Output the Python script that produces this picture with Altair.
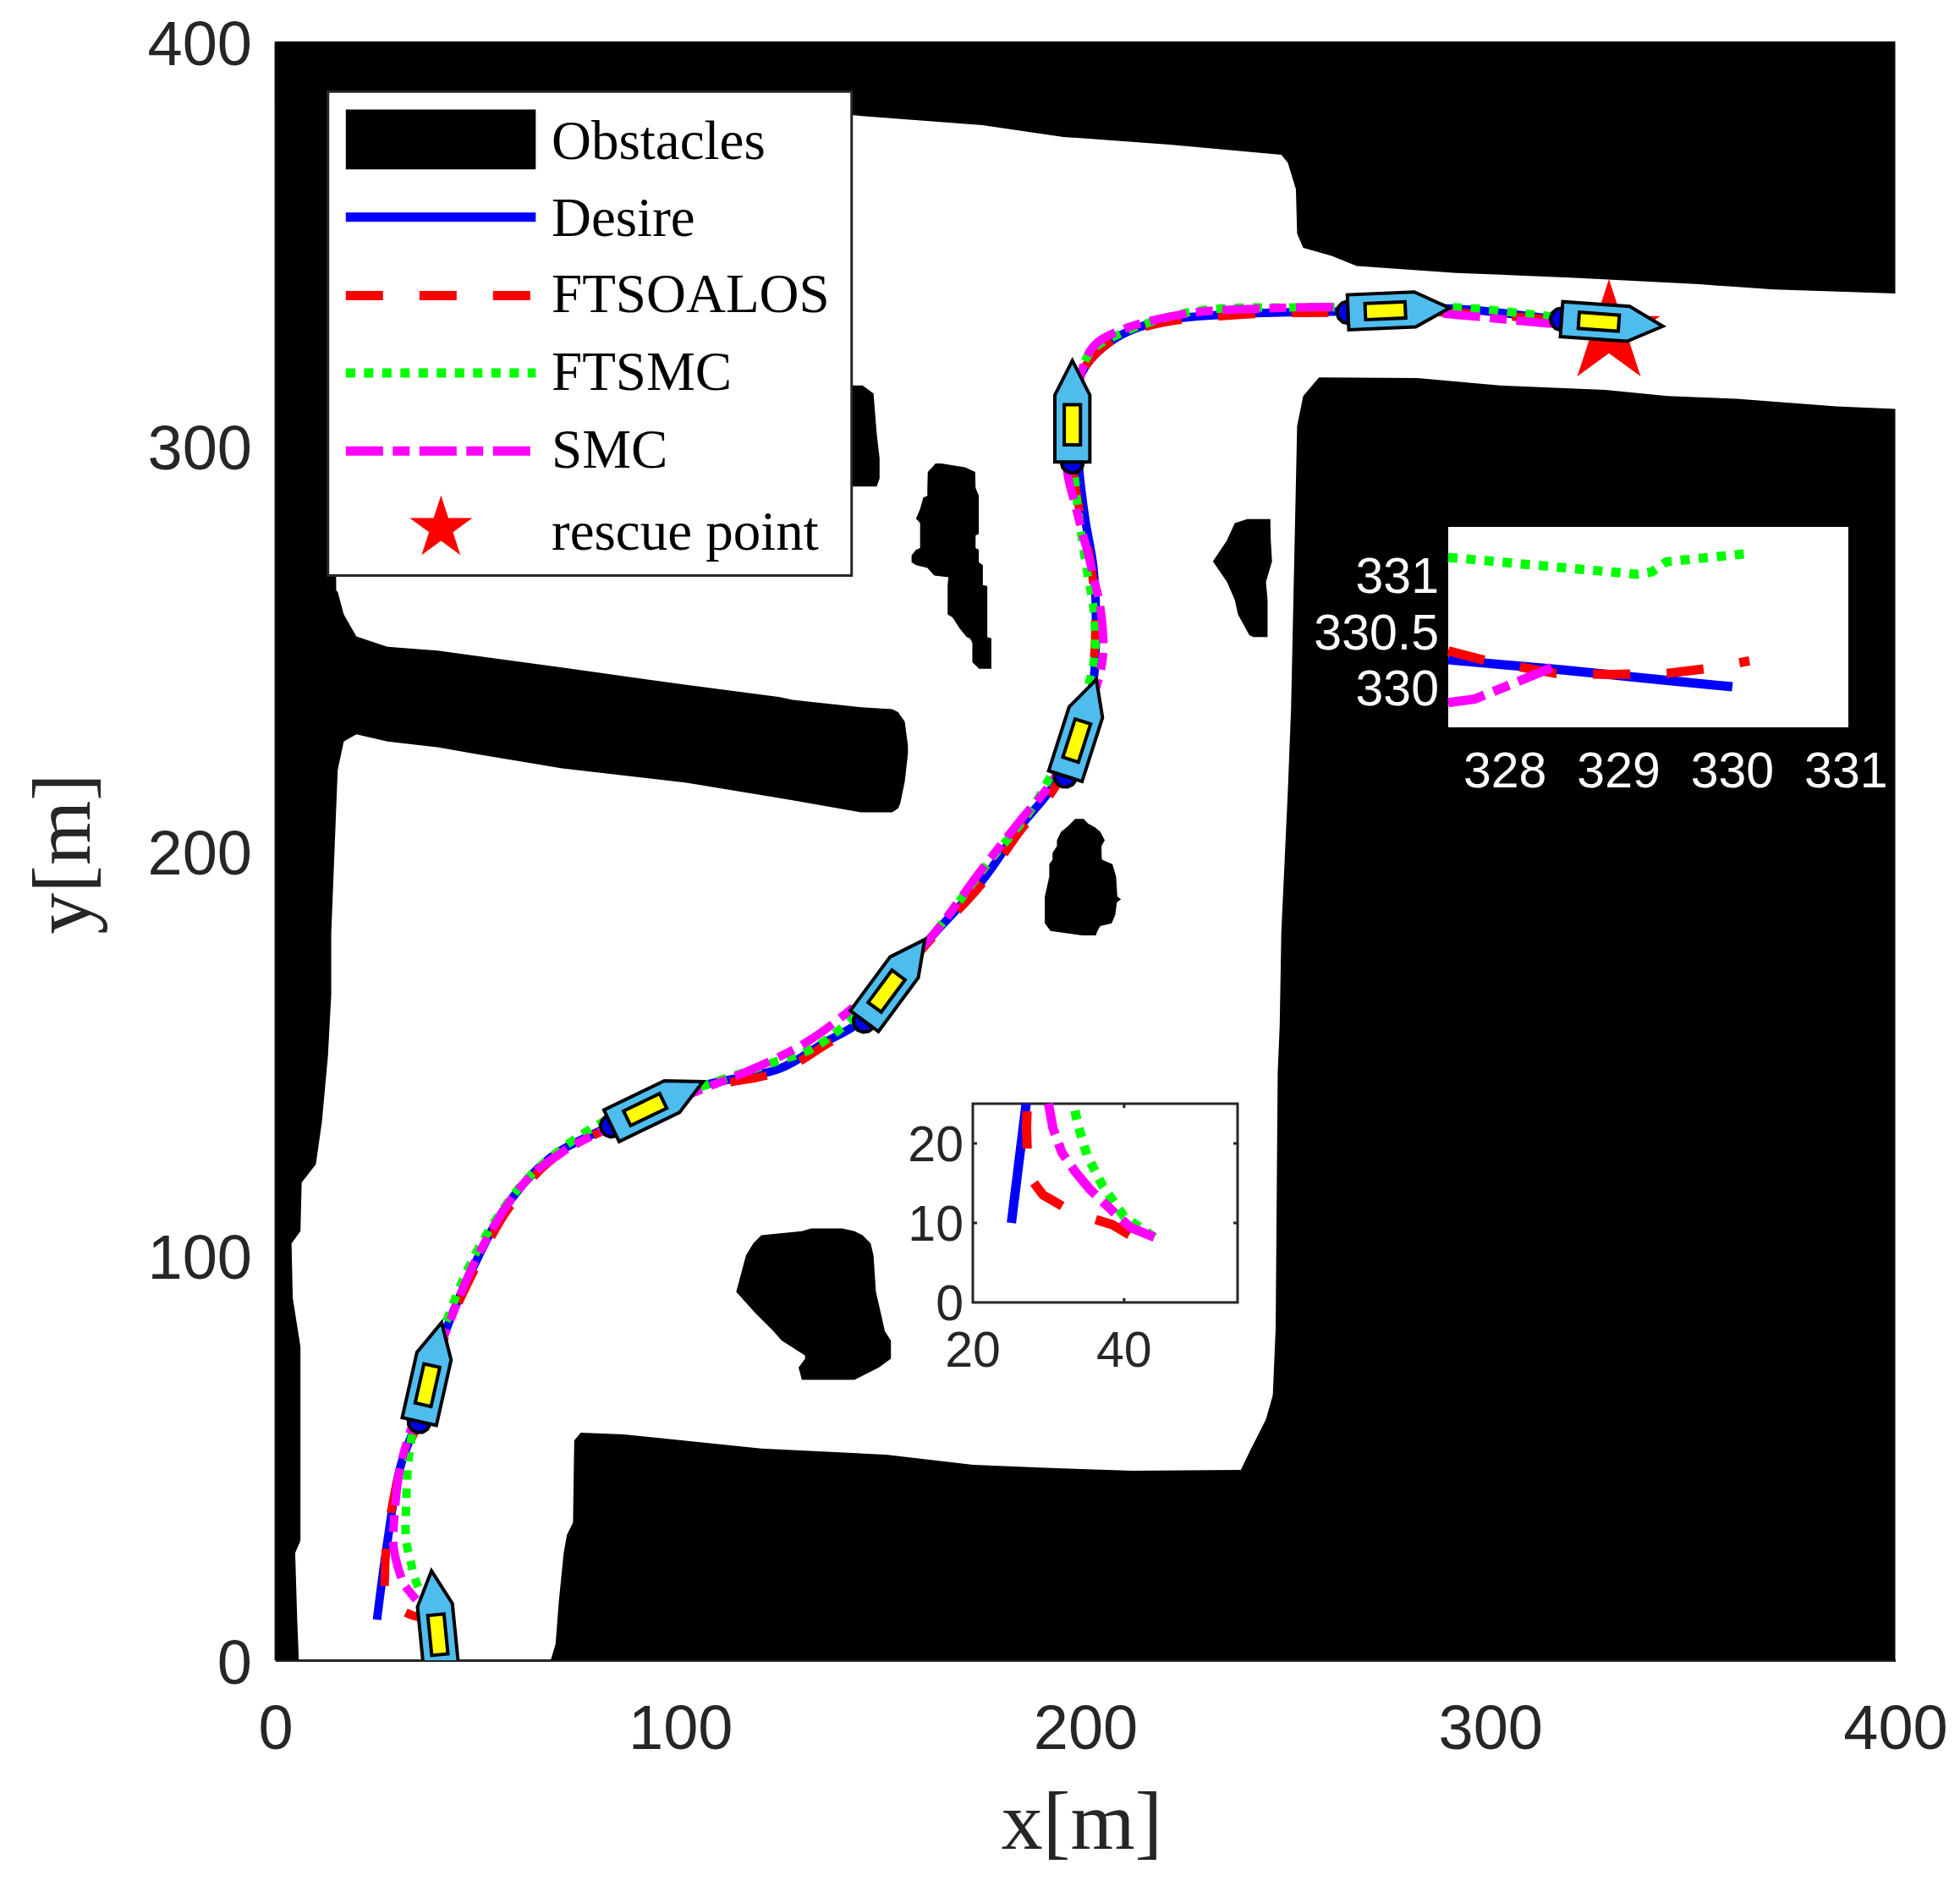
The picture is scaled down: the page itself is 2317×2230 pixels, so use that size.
import altair as alt
import pandas as pd

W, H = 1915, 1914
INK = "#262626"
SANS = "Liberation Sans"
SERIF = "Liberation Serif"

# ---------- obstacle outlines (map metres) ----------
top_x = [0, 142, 174.6, 194.6, 220.8, 248.4, 250, 252, 252.3, 253.8, 260.8, 267, 291.5, 320.8, 351.5, 370, 400]
top_y = [384, 381.8, 379.3, 376.4, 374.5, 372, 370, 363.5, 352.5, 349, 347, 344.5, 342.8, 341.6, 340, 338.7, 337.7]

block_x = [68, 69.2, 70, 71.2, 72, 73.5, 73.8, 75.4, 86, 120, 150.8, 172.3, 191.5, 211.5, 238.4, 240.8, 244.6, 246.3,
           247, 247.5, 248, 248.4, 250, 250.8, 252.3, 253.8, 257.7, 282, 302.3, 328.4, 343.8, 360.8, 385.4, 400]
block_y = [0, 4, 14.5, 26.5, 31, 34, 54.3, 56.2, 55.8, 52.3, 50.8, 48.3, 47.5, 46.8, 47, 52, 59.5, 65.5,
           82, 145, 157, 180, 214.6, 235, 305, 312.4, 317, 316.8, 315, 313.9, 312.4, 311.7, 309.8, 309.2]

bar_x = [10, 15.4, 16.9, 20, 27.7, 40, 49.2, 70.8, 101.5, 124.6, 127.7, 144.6, 152.3, 153.8, 154.3, 155.4, 156.2]
bar_low = [220, 220, 227, 228.8, 227, 225.6, 224, 220.4, 216.8, 213, 212.5, 209.5, 209.5, 210.5, 211.7, 217, 224]
bar_up = [268, 264, 258.4, 253, 250.4, 249.5, 248.2, 245.3, 241, 238, 237.3, 235.5, 235, 234.3, 233.5, 232, 226]

small_x = [140, 141.8, 145, 147.7, 148.5, 149.2]
small_low = [290, 290, 290, 290, 290, 292]
small_up = [315, 315, 315, 313, 303, 297]

wall_y = [0, 10, 26.5, 29.5, 77.5, 89.5, 103, 106, 118, 122.5, 133, 149.5, 164.5, 179.5, 220, 268, 400]
wall_x = [5.8, 5.4, 4.9, 6.2, 6.2, 4.3, 4, 6.2, 6.5, 10, 11.5, 13, 13.8, 13.8, 15.4, 15, 14]

tall_y = [295.7, 294.8, 293.6, 289.7, 287.7, 287.3, 284.5, 282.1, 281, 278.3, 277.9, 274.8, 274.4, 273, 271.3, 270.6,
          269.9, 268, 267.6, 265.7, 265.4, 258.4, 257.7, 254.9, 252.8, 252.5, 251.4, 246.6, 245]
tall_l = [163, 162.2, 161.1, 161, 161, 160, 159.2, 158.2, 159.2, 159.2, 159.2, 159.2, 158.2, 157.1, 157.1, 158.2,
          161, 162.7, 166.2, 166, 166, 166, 167.2, 169, 170.7, 171.5, 172.1, 172.1, 173.8]
tall_r = [164.4, 170.3, 172.8, 172.9, 173.7, 173.7, 173.7, 173.7, 173.7, 173.7, 172.9, 172.9, 173.7, 173.7, 173.7, 174.7,
          174.7, 174.7, 174.7, 174.7, 175.8, 175.8, 175.8, 175.8, 175.8, 176.8, 176.8, 176.8, 176.8]

mid_y = [207.9, 206.8, 205.8, 204.7, 202.6, 201.2, 199.5, 197.8, 196.7, 193.6, 188.7, 188, 187.3, 184.2, 182.1, 181.4, 180.2, 179.1]
mid_l = [197.5, 196.4, 195.4, 194, 193, 193, 191.9, 191.9, 191.1, 191.1, 190, 190, 190, 190, 190, 190.5, 191.4, 199.2]
mid_r = [199.6, 200.6, 202.4, 203.7, 204.8, 204, 204, 204.1, 206.7, 207.6, 207.9, 208.8, 207.8, 207.4, 206.5, 203.7, 203, 202.6]

rock_y = [106.7, 106, 105, 103, 100, 91, 85.8, 81.3, 79, 75.3, 74.5, 72.3, 69.3]
rock_l = [132.3, 130, 120, 118, 116.2, 113.8, 118.5, 123, 125, 130.8, 130.8, 129.2, 130]
rock_r = [140, 143, 145, 147, 147.7, 148.3, 149.5, 150.5, 152, 152, 152, 149, 143]

east_y = [252.8, 253.3, 258.4, 262, 266.4, 271.5, 276.6, 281, 282]
east_l = [241.5, 240.5, 237.7, 236.9, 235, 231.5, 234.9, 236.9, 240]
east_r = [245, 245, 245, 245, 244.6, 246.1, 245.8, 245.7, 245.7]

# ---------- trajectories ----------
desire_x = [25.1, 27.7, 30.8, 35.4, 42.3, 49.2, 56.9, 67.7, 82.3, 104.6, 124.6, 135.4, 145.4, 160, 174.6, 183.8, 193, 201.5,
            202.6, 202, 200, 198.4, 197.7, 199.2, 206.9, 217.7, 236.1, 251.5, 264.9, 290, 316, 327.5, 330]
desire_y = [10, 29.5, 47.5, 60.3, 82, 97.8, 112, 124, 131.8, 141.7, 146.2, 152.5, 158.5, 176.5, 192.7, 205.8, 217.5, 239.4,
            255.5, 270, 281.8, 295, 308, 318.2, 326.3, 330.7, 332.6, 333.1, 333.3, 334, 331.4, 330.25, 330.01]

ftsoalos_x = [40.7, 38.4, 33.5, 29.3, 27.3, 27.1, 27.6, 30.8, 35.7, 42.6, 49.7, 57.5, 68, 82.3, 104.6, 124.6, 135.8, 146, 160,
              174.6, 184, 193.3, 201, 202.5, 201.5, 199, 197, 197.5, 199, 206.5, 217.7, 236, 251.5, 264.9, 290, 316,
              327.5, 327.84, 328.44, 328.93, 329.43, 329.76, 330.15]
ftsoalos_y = [8.5, 9.8, 11.2, 13.5, 16, 21.9, 30, 47, 60, 82, 97.5, 111.5, 123.5, 131.5, 141, 145.5, 152, 158.2, 176,
              192, 205, 217, 240, 255, 270, 281.8, 295, 308, 318, 326, 330.2, 332.3, 332.9, 333, 333, 331.2,
              330.33, 330.24, 330.13, 330.12, 330.13, 330.17, 330.24]

ftsmc_x = [44, 40, 37.2, 35.1, 33.9, 33.3, 32.3, 32.3, 33, 34.6, 43, 50, 60, 67.7, 81.5, 106, 123, 132.3, 141.5, 160, 176,
           188.4, 201.5, 202.3, 200, 197.7, 197, 200.8, 208.4, 226.9, 251.5, 264.9, 291.5, 316,
           327.5, 329.15, 329.29, 329.42, 330.1]
ftsmc_y = [8.2, 10.8, 14.6, 18.5, 22.3, 25, 29.5, 38.5, 50.5, 59.5, 85.8, 101.5, 116.5, 124, 133.3, 142, 147.7, 151, 157.7, 176.5, 197,
           213, 243.8, 257, 271.5, 289, 308, 322.6, 327.7, 333.3, 334.3, 334.3, 334.3, 332,
           331.16, 331.01, 331.03, 331.12, 331.19]

smc_x = [44, 40.9, 38.8, 35.5, 33.5, 31.8, 30.6, 29.2, 29.5, 30.8, 33.8, 43, 50.8, 61.5, 70.8, 82.3, 104.6, 117, 130.8, 143, 160,
         174.6, 183.8, 193, 203.8, 204.1, 201.5, 197.7, 195.4, 196.9, 201.5, 208.4, 225.4, 243.8, 264.9, 290, 316,
         327.5, 327.73, 328, 328.41]
smc_y = [8.2, 9.4, 11.2, 14.2, 16.5, 18.8, 21.9, 28, 37, 47.5, 58, 83.5, 101.5, 118, 125.5, 131.5, 140.8, 145.7, 152.5, 161.5, 176.5,
         195.6, 207.3, 219, 244.5, 257, 270, 284.7, 295, 308, 324, 328.5, 332.8, 334, 334.3, 332.6, 330.2,
         329.87, 329.9, 330.01, 330.18]

# inset near the start (clipped at y = 25)
near_desire_x = [25.1, 27.05]
near_desire_y = [10, 25]
near_red_x = [40.7, 38.4, 33.5, 29.3, 27.3, 27.1, 27.2]
near_red_y = [8.5, 9.8, 11.2, 13.5, 16, 21.9, 25]
near_green_x = [44, 40, 37.2, 35.1, 33.9, 33.3]
near_green_y = [8.2, 10.8, 14.6, 18.5, 22.3, 25]
near_smc_x = [44, 40.9, 38.8, 35.5, 33.5, 31.8, 30.6, 30]
near_smc_y = [8.2, 9.4, 11.2, 14.2, 16.5, 18.8, 21.9, 25]

# inset near the rescue point
far_desire_x = [327.5, 328.5, 329.5, 330]
far_desire_y = [330.25, 330.16, 330.06, 330.01]
far_red_x = [327.5, 327.84, 328.44, 328.93, 329.43, 329.76, 330.15]
far_red_y = [330.33, 330.24, 330.13, 330.12, 330.13, 330.17, 330.24]
far_green_x = [327.5, 329.15, 329.29, 329.42, 330.1]
far_green_y = [331.16, 331.01, 331.03, 331.12, 331.19]
far_smc_x = [327.5, 327.73, 328, 328.41]
far_smc_y = [329.87, 329.9, 330.01, 330.18]

# ---------- vessels ----------
ship_x = [39.8, 38.3, 94.3, 152.9, 198.9, 196.8, 277.4, 330.1]
ship_y = [9.6, 71.2, 137.5, 168, 230.4, 308.6, 333.6, 330.5]
ship_heading = [354.3, 12.7, 64.2, 36.5, 17.8, 0, 87.6, 94]
rescue_x = [329.3]
rescue_y = [328]

# ---------- legend ----------
legend_box = [13, 142.3, 268, 387.6]
legend_names = ["Obstacles", "Desire", "FTSOALOS", "FTSMC", "SMC", "rescue point"]
legend_text_y = [375.2, 356.1, 337.3, 318.1, 298.9, 278.6]
legend_line_y = [356.6, 337.2, 318.1, 298.8]
legend_line_x = [17.4, 64.3]
legend_swatch = [17.4, 64.3, 368.4, 383.2]
legend_star = [40.9, 279.7]
legend_text_x = 68.2

styles = {
    "Desire": ("#0000ff", None),
    "FTSOALOS": ("#ff0000", [44, 43]),
    "FTSMC": ("#00ff00", [11, 10.5]),
    "SMC": ("#ff00ff", [44, 11.5, 20, 11.5]),
}

HULL = "M 0 -1 L 0.345 -0.32 L 0.345 1 L -0.345 1 L -0.345 -0.32 Z"
DECK = "M -0.16 -0.13 L 0.16 -0.13 L 0.16 0.66 L -0.16 0.66 Z"
SCREW = "M -0.22 1 L -0.19 1.11 L -0.11 1.19 L 0 1.22 L 0.11 1.19 L 0.19 1.11 L 0.22 1 Z"
STAR = ("M 0 -1 L 0.2245 -0.309 L 0.951 -0.309 L 0.363 0.118 L 0.588 0.809 L 0 0.382 "
        "L -0.588 0.809 L -0.363 0.118 L -0.951 -0.309 L -0.2245 -0.309 Z")


def path_df(xs, ys):
    return pd.DataFrame({"x": xs, "y": ys, "i": range(len(xs))})


# ---------- main map ----------
mx = alt.Scale(domain=[0, 400], nice=False, zero=False)
my = alt.Scale(domain=[0, 400], nice=False, zero=False)

axis_base = dict(labelFont=SANS, labelFontSize=74, labelColor=INK, ticks=False, grid=False,
                 domainColor=INK, domainWidth=3, titleFont=SERIF, titleFontSize=98,
                 titleFontWeight="normal", titleColor=INK, values=[0, 100, 200, 300, 400], format="d",
                 labelFlush=False)
x_axis = alt.Axis(labelPadding=46, titlePadding=26, titleX=953, **axis_base)
y_axis = alt.Axis(labelPadding=28, titlePadding=48, labelOffset=5, titleY=960, **axis_base)

# every layer carries the same axis definition, so that they merge into one pair of axes
X = lambda f: alt.X(f, type="quantitative", scale=mx, axis=x_axis, title="x[m]")
Y = lambda f: alt.Y(f, type="quantitative", scale=my, axis=y_axis, title="y[m]")


def band(xs, low, up):
    d = pd.DataFrame({"x": xs, "lo": low, "hi": up})
    return alt.Chart(d).mark_area(color="black", orient="vertical", opacity=1).encode(
        x=X("x"), y=Y("lo"), y2=alt.Y2("hi"))


def slab(ys, left, right):
    d = pd.DataFrame({"y": ys, "l": left, "r": right})
    return alt.Chart(d).mark_area(color="black", orient="horizontal", opacity=1).encode(
        y=Y("y"), x=X("l"), x2=alt.X2("r"))


obstacles = [
    slab(wall_y, [0] * len(wall_y), wall_x),
    band(top_x, top_y, [400] * len(top_x)),
    band(block_x, block_y, [0] * len(block_x)),
    band(bar_x, bar_low, bar_up),
    band(small_x, small_low, small_up),
    slab(tall_y, tall_l, tall_r),
    slab(mid_y, mid_l, mid_r),
    slab(rock_y, rock_l, rock_r),
    slab(east_y, east_l, east_r),
]


def track(xs, ys, name, width=10, map_x=None, map_y=None, interp="linear"):
    color, dash = styles[name]
    kw = dict(color=color, strokeWidth=width, strokeCap="butt", opacity=1, interpolate=interp)
    if dash:
        kw["strokeDash"] = dash
    c = alt.Chart(path_df(xs, ys))
    fx, fy = "x", "y"
    if map_x:
        c = c.transform_calculate(mx_=map_x("datum.x"), my_=map_y("datum.y"))
        fx, fy = "mx_", "my_"
    return c.mark_line(**kw).encode(x=X(fx), y=Y(fy), order=alt.Order("i:Q"))


tracks = [
    track(desire_x, desire_y, "Desire", interp="catmull-rom"),
    track(ftsoalos_x, ftsoalos_y, "FTSOALOS", interp="catmull-rom"),
    track(ftsmc_x, ftsmc_y, "FTSMC", interp="catmull-rom"),
    track(smc_x, smc_y, "SMC", interp="catmull-rom"),
]

ships_df = pd.DataFrame({"x": ship_x, "y": ship_y, "a": ship_heading})


def ship_part(shape, fill, width):
    return alt.Chart(ships_df).mark_point(
        shape=shape, size=14400, filled=True, fill=fill, stroke="black", strokeWidth=width,
        opacity=1, clip=True).encode(
        x=X("x"), y=Y("y"), angle=alt.Angle("a:Q", scale=None))


star = alt.Chart(pd.DataFrame({"x": rescue_x, "y": rescue_y})).mark_point(
    shape=STAR, size=16180, filled=True, color="#ff0000", opacity=1).encode(x=X("x"), y=Y("y"))

ships = [ship_part(SCREW, "#0000e6", 4), ship_part(HULL, "#4fbcee", 4), ship_part(DECK, "#ffff00", 4)]

# ---------- legend ----------
legend_bg = alt.Chart(pd.DataFrame({"a": [legend_box[0]], "b": [legend_box[1]], "c": [legend_box[2]], "d": [legend_box[3]]})).mark_rect(
    fill="white", stroke=INK, strokeWidth=3, opacity=1).encode(x=X("a"), x2=alt.X2("b"), y=Y("c"), y2=alt.Y2("d"))
legend_patch = alt.Chart(pd.DataFrame({"a": [legend_swatch[0]], "b": [legend_swatch[1]], "c": [legend_swatch[2]], "d": [legend_swatch[3]]})).mark_rect(
    color="black", opacity=1).encode(x=X("a"), x2=alt.X2("b"), y=Y("c"), y2=alt.Y2("d"))
legend_lines = [
    track(legend_line_x, [ly, ly], name, width=11)
    for ly, name in zip(legend_line_y, ["Desire", "FTSOALOS", "FTSMC", "SMC"])
]
legend_mark = alt.Chart(pd.DataFrame({"x": [legend_star[0]], "y": [legend_star[1]]})).mark_point(
    shape=STAR, size=6084, filled=True, color="#ff0000", opacity=1).encode(x=X("x"), y=Y("y"))
legend_labels = alt.Chart(pd.DataFrame({"t": legend_names, "y": legend_text_y, "x": [legend_text_x] * 6})).mark_text(
    font=SERIF, fontSize=65, color="black", align="left", baseline="middle").encode(
    x=X("x"), y=Y("y"), text="t:N")

main = [*obstacles, *tracks, legend_bg, legend_patch, *legend_lines, legend_mark, legend_labels]


# ---------- insets: own axes mapped onto a sub-range of the plot ----------
def inset(dom_x, dom_y, px_x, px_y, series, xvals, yvals, label_color, box_stroke, ticks=False, xpad=25):
    # pixel box inside the plot -> metres of the main scales
    a0, a1 = px_x[0] * 400 / W, px_x[1] * 400 / W
    b0, b1 = (H - px_y[1]) * 400 / H, (H - px_y[0]) * 400 / H
    map_x = lambda e: f"{a0}+({e}-({dom_x[0]}))/({dom_x[1] - dom_x[0]})*({a1 - a0})"
    map_y = lambda e: f"{b0}+({e}-({dom_y[0]}))/({dom_y[1] - dom_y[0]})*({b1 - b0})"
    box_kw = dict(fill="white", opacity=1)
    if box_stroke:
        box_kw.update(stroke=box_stroke, strokeWidth=3)
    box = alt.Chart(pd.DataFrame({"a": [a0], "b": [a1], "c": [b0], "d": [b1]})).mark_rect(**box_kw).encode(
        x=X("a"), x2=alt.X2("b"), y=Y("c"), y2=alt.Y2("d"))
    parts = [box]
    if ticks:
        tx = [t for t in xvals if dom_x[0] < t < dom_x[1]]
        ty = [t for t in yvals if dom_y[0] < t < dom_y[1]]
        dy = (dom_y[1] - dom_y[0]) * 0.022
        dx = (dom_x[1] - dom_x[0]) * 0.016
        rows = [(t, t, dom_y[0], dom_y[0] + dy) for t in tx] + [(t, t, dom_y[1] - dy, dom_y[1]) for t in tx]
        rows += [(dom_x[0], dom_x[0] + dx, t, t) for t in ty] + [(dom_x[1] - dx, dom_x[1], t, t) for t in ty]
        td = pd.DataFrame(rows, columns=["a", "b", "c", "d"])
        parts.append(alt.Chart(td).transform_calculate(
            a_=map_x("datum.a"), b_=map_x("datum.b"), c_=map_y("datum.c"), d_=map_y("datum.d")
        ).mark_rule(color=INK, strokeWidth=3).encode(
            x=X("a_"), x2=alt.X2("b_"), y=Y("c_"), y2=alt.Y2("d_")))
    for xs, ys, name in series:
        parts.append(track(xs, ys, name, width=11, map_x=map_x, map_y=map_y))
    lab_x = pd.DataFrame({"v": xvals, "t": [f"{v:g}" for v in xvals]})
    parts.append(alt.Chart(lab_x).transform_calculate(p=map_x("datum.v"), q=str(b0)).mark_text(
        font=SANS, fontSize=59, color=label_color, align="center", baseline="top", dy=xpad).encode(
        x=X("p"), y=Y("q"), text="t:N"))
    lab_y = pd.DataFrame({"v": yvals, "t": [f"{v:g}" for v in yvals]})
    parts.append(alt.Chart(lab_y).transform_calculate(p=str(a0), q=map_y("datum.v")).mark_text(
        font=SANS, fontSize=59, color=label_color, align="right", baseline="middle", dx=-11, dy=3).encode(
        x=X("p"), y=Y("q"), text="t:N"))
    return parts


inset_far = inset([327.5, 331.02], [329.65, 331.43], [1386.5, 1859.5], [574, 811],
                  [(far_desire_x, far_desire_y, "Desire"), (far_red_x, far_red_y, "FTSOALOS"),
                   (far_green_x, far_green_y, "FTSMC"), (far_smc_x, far_smc_y, "SMC")],
                  [328, 329, 330, 331], [330, 330.5, 331], "white", None, xpad=24)
inset_near = inset([20, 55], [0, 25], [824.5, 1137.5], [1256, 1491],
                   [(near_desire_x, near_desire_y, "Desire"), (near_red_x, near_red_y, "FTSOALOS"),
                    (near_green_x, near_green_y, "FTSMC"), (near_smc_x, near_smc_y, "SMC")],
                   [20, 40], [0, 10, 20], INK, INK, ticks=True, xpad=29)

chart = alt.layer(*main, *inset_far, *inset_near, star, *ships).properties(
    width=W, height=H, autosize="none",
    padding={"left": 317.5, "top": 41, "right": 68, "bottom": 250},
).configure_view(stroke=None).configure_axis(labelFontWeight="normal")

chart.save("out.html", embed_options={"renderer": "svg", "actions": False})
